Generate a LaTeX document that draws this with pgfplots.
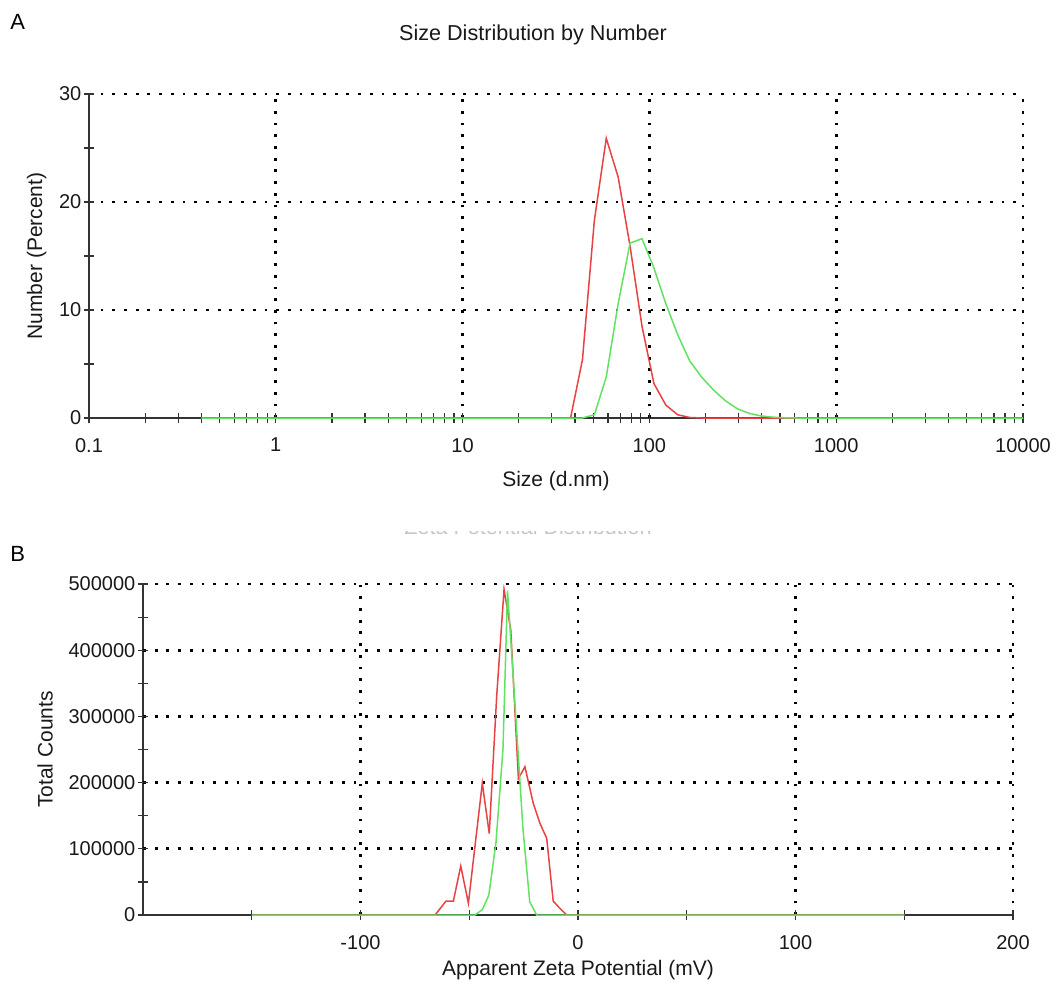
\documentclass[border=0pt]{standalone}
\usepackage{fontspec}
\setmainfont{Liberation Sans}
\usepackage{pgfplots}
\pgfplotsset{compat=1.18}
\definecolor{dlsred}{RGB}{232,66,66}
\definecolor{dlsgreen}{RGB}{98,226,98}

\pgfplotsset{
  dls/.style={
    scale only axis,
    anchor=south west,
    axis x line*=bottom, axis y line*=left,
    axis line style={black!80, line width=0.6pt, -},
    tick align=center,
    major tick length=5pt, minor tick length=5pt,
    tick style={black!80, line width=0.6pt},
    tick label style={font=\fontsize{10}{12}\selectfont, black!90},
    xticklabel style={yshift=-4pt},
    yticklabel style={xshift=2.2pt},
    label style={font=\fontsize{10.5}{12}\selectfont, black!90},
    major grid style={black, line width=1.4pt, dash pattern=on 1.4pt off 4.45pt},
    extra tick style={grid=major},
    extra x tick labels={}, extra y tick labels={},
  },
}

\begin{document}
\begin{tikzpicture}
\useasboundingbox (0,0) rectangle (529.5pt,493.5pt);

\node[anchor=base west, inner sep=0pt, font=\fontsize{11}{13}\selectfont] at (5pt,478.5pt) {A};
\node[anchor=base west, inner sep=0pt, font=\fontsize{11}{13}\selectfont] at (5pt,213pt) {B};
\node[anchor=base, inner sep=0pt, font=\fontsize{10.8}{13}\selectfont, black!90] at (266.5pt,473pt) {Size Distribution by Number};
\begin{scope}
  \clip (150pt,226pt) rectangle (380pt,227.6pt);
  \node[anchor=base, inner sep=0pt, font=\fontsize{10.8}{13}\selectfont, black!22] at (264pt,226.3pt) {Zeta Potential Distribution};
\end{scope}

% A: size distribution by number
\begin{axis}[dls,
  at={(44.5pt,284.5pt)},
  width=467pt, height=162pt,
  xmode=log, log basis x=10,
  xmin=0.1, xmax=10000, ymin=0, ymax=30,
  xtick={0.1,1,10,100,1000,10000},
  xticklabels={0.1,1,10,100,1000,10000},
  minor xtick={0.2,0.3,0.4,0.5,0.6,0.7,0.8,0.9,2,3,4,5,6,7,8,9,20,30,40,50,60,70,80,90,200,300,400,500,600,700,800,900,2000,3000,4000,5000,6000,7000,8000,9000},
  ytick={0,10,20,30}, yticklabels={0,10,20,30},
  minor ytick={5,15,25},
  extra x ticks={1,10,100,1000,10000},
  extra y ticks={10,20,30},
  xlabel={Size (d.nm)},
  ylabel={Number (Percent)},
  xlabel style={at={(axis description cs:0.5,-0.194)}, anchor=center},
  ylabel style={at={(axis description cs:-0.056,0.5)}, anchor=center},
]
\addplot[dlsred, line width=0.75pt] coordinates {
  (0.4,0) (37.84,0) (43.82,5.4) (50.75,18.3) (58.77,25.9) (68.06,22.3)
  (78.82,15.9) (91.28,8.5) (105.7,3.2) (122.4,1.2) (141.8,0.3)
  (164.2,0.05) (190.1,0) (10000,0)
};
\addplot[dlsgreen, line width=0.75pt] coordinates {
  (0.4,0) (43.82,0) (50.75,0.3) (58.77,3.8) (68.06,10.6) (78.82,16.2)
  (91.28,16.6) (105.7,13.9) (122.4,10.6) (141.8,7.7) (164.2,5.3)
  (190.1,3.8) (220.2,2.6) (255.0,1.6) (295.3,0.86) (342.0,0.43)
  (396.1,0.19) (458.7,0.08) (531.2,0.02) (615.1,0) (10000,0)
};
\end{axis}

% B: zeta potential distribution
\begin{axis}[dls,
  at={(71.5pt,36pt)},
  width=435pt, height=165.5pt,
  xmin=-200, xmax=200, ymin=0, ymax=500000,
  xtick={-100,0,100,200},
  xticklabels={-100,0,100,200},
  minor xtick={-150,-50,50,150},
  ytick={0,100000,200000,300000,400000,500000},
  yticklabels={0,100000,200000,300000,400000,500000},
  minor ytick={50000,150000,250000,350000,450000},
  scaled y ticks=false,
  extra x ticks={-100,0,100,200},
  extra y ticks={100000,200000,300000,400000,500000},
  xlabel={Apparent Zeta Potential (mV)},
  ylabel={Total Counts},
  xlabel style={at={(axis description cs:0.5,-0.166)}, anchor=center},
  ylabel style={at={(axis description cs:-0.1126,0.5)}, anchor=center},
]
\addplot[dlsred, line width=0.75pt] coordinates {
  (-150,0) (-65.7,0) (-60.7,21000) (-57.3,21000) (-53.9,74000)
  (-50.4,17700) (-47.4,103000) (-44.0,199000) (-40.8,123000)
  (-37.4,330000) (-34.0,492000) (-30.9,430000) (-27.4,206000)
  (-24.4,224000) (-20.6,169000) (-17.5,138500) (-14.4,116000)
  (-11.4,21000) (-8.3,10000) (-5.2,0) (150,0)
};
\addplot[dlsgreen, line width=0.75pt] coordinates {
  (-150,0) (-47.4,0) (-44.0,8000) (-41.0,30000) (-37.7,110000)
  (-34.5,250000) (-32.4,490000) (-28.6,300000) (-25.3,130000)
  (-22.2,20000) (-19.0,0) (150,0)
};
\end{axis}
\end{tikzpicture}
\end{document}
